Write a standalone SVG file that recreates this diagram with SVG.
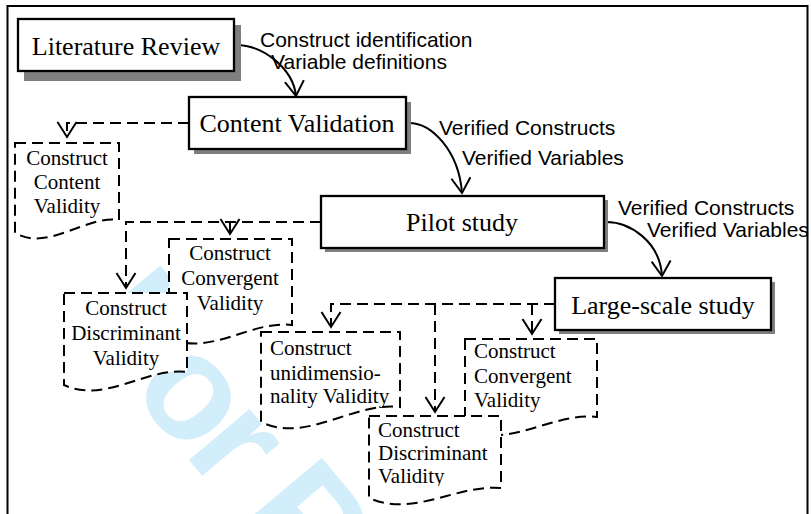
<svg xmlns="http://www.w3.org/2000/svg" width="811" height="514" viewBox="0 0 811 514">
<defs>
<style>
.box{fill:#fff;stroke:#000;stroke-width:2.3}
.shadow{fill:#7f7f7f}
.doc{fill:#fff;stroke:#000;stroke-width:2;stroke-dasharray:11 6}
.conn{fill:none;stroke:#000;stroke-width:2}
.dconn{fill:none;stroke:#000;stroke-width:2;stroke-dasharray:11 6}
.tb{font-family:"Liberation Serif","Times New Roman",serif;font-size:26px;text-anchor:middle;fill:#000}
.td{font-family:"Liberation Serif","Times New Roman",serif;font-size:21px;fill:#000}
.c{text-anchor:middle}
.lbl{font-family:"Liberation Sans",Arial,sans-serif;font-size:21px;fill:#000}
.wm{font-family:"Liberation Sans",Arial,sans-serif;font-weight:bold;font-size:150px;letter-spacing:-8px;fill:#d2eefb}
</style>
<marker id="arr" markerUnits="userSpaceOnUse" markerWidth="20" markerHeight="22" refX="15" refY="10" orient="auto" overflow="visible">
<path d="M0,0.5 L15,10 L0,19.5" fill="none" stroke="#000" stroke-width="2"/>
</marker>
<clipPath id="frameclip"><rect x="8" y="7" width="799" height="507"/></clipPath>
<clipPath id="d6clip"><rect x="369" y="416" width="132" height="70"/></clipPath>
</defs>

<g id="watermark" clip-path="url(#frameclip)">
<text class="wm" transform="translate(74.8,323.9) rotate(50)">For Peer Review</text>
</g>

<rect id="frame" x="7.5" y="6" width="800" height="520" fill="none" stroke="#000" stroke-width="2"/>

<g id="connectors">
<path class="conn" d="M234,45 C262,44 293,68 296,96" marker-end="url(#arr)"/>
<path class="conn" d="M406,123 C432,121 459,152 462,193" marker-end="url(#arr)"/>
<path class="conn" d="M604,222 C630,221 660,242 662,276" marker-end="url(#arr)"/>
<path class="dconn" d="M189,123 H67 V137" marker-end="url(#arr)"/>
<path class="dconn" d="M321,222 H126 V288" marker-end="url(#arr)"/>
<path class="dconn" d="M230,222 V234" marker-end="url(#arr)"/>
<path class="dconn" d="M555,304 H331 V327" marker-end="url(#arr)"/>
<path class="dconn" d="M435,304 V412" marker-end="url(#arr)"/>
<path class="dconn" d="M532,304 V334" marker-end="url(#arr)"/>
</g>

<g id="labels">
<text class="lbl" x="260" y="47">Construct identification</text>
<text class="lbl" x="271" y="69">Variable definitions</text>
<text class="lbl" x="439" y="135">Verified Constructs</text>
<text class="lbl" x="462" y="165">Verified Variables</text>
<text class="lbl" x="618" y="215">Verified Constructs</text>
<text class="lbl" x="647" y="237">Verified Variables</text>
</g>

<g id="literature-review">
<rect class="shadow" x="24" y="25" width="217" height="56"/>
<rect class="box" x="18" y="19" width="216" height="52"/>
<text class="tb" x="126" y="55">Literature Review</text>
</g>

<g id="content-validation">
<rect class="shadow" x="194" y="102" width="217" height="52"/>
<rect class="box" x="189" y="97" width="217" height="52"/>
<text class="tb" x="297" y="132">Content Validation</text>
</g>

<g id="pilot-study">
<rect class="shadow" x="325" y="200" width="283" height="52"/>
<rect class="box" x="321" y="196" width="283" height="52"/>
<text class="tb" x="462" y="231">Pilot study</text>
</g>

<g id="large-scale-study">
<rect class="shadow" x="559" y="282" width="216" height="52"/>
<rect class="box" x="555" y="278" width="216" height="52"/>
<text class="tb" x="663" y="314">Large-scale study</text>
</g>

<g id="doc-content-validity">
<path class="doc" d="M15,143 H119 V220 C85,215 49,252 15,233 Z"/>
<text class="td c" x="67" y="165">Construct</text>
<text class="td c" x="67" y="189">Content</text>
<text class="td c" x="67" y="213">Validity</text>
</g>

<g id="doc-pilot-convergent">
<path class="doc" d="M169,239 H292 V325 C251,320 210,357 169,338 Z"/>
<text class="td c" x="230" y="260">Construct</text>
<text class="td c" x="230" y="285">Convergent</text>
<text class="td c" x="230" y="310">Validity</text>
</g>

<g id="doc-pilot-discriminant">
<path class="doc" d="M64,293 H187 V372 C146,367 105,404 64,385 Z"/>
<text class="td c" x="126" y="315">Construct</text>
<text class="td c" x="126" y="340">Discriminant</text>
<text class="td c" x="126" y="365">Validity</text>
</g>

<g id="doc-large-unidimensionality">
<path class="doc" d="M261,332 H400 V407 C354,401 307,444 261,422 Z"/>
<text class="td" x="270" y="355">Construct</text>
<text class="td" x="270" y="380">unidimensio-</text>
<text class="td" x="270" y="403">nality Validity</text>
</g>

<g id="doc-large-convergent">
<path class="doc" d="M465,339 H597 V417 C553,412 509,449 465,430 Z"/>
<text class="td" x="474" y="358">Construct</text>
<text class="td" x="474" y="383">Convergent</text>
<text class="td" x="474" y="407">Validity</text>
</g>

<g id="doc-large-discriminant">
<path class="doc" d="M369,416 H501 V488 C457,484 413,518 369,498 Z"/>
<g clip-path="url(#d6clip)">
<text class="td" x="378" y="437">Construct</text>
<text class="td" x="378" y="460">Discriminant</text>
<text class="td" x="378" y="483">Validity</text>
</g>
</g>
</svg>
